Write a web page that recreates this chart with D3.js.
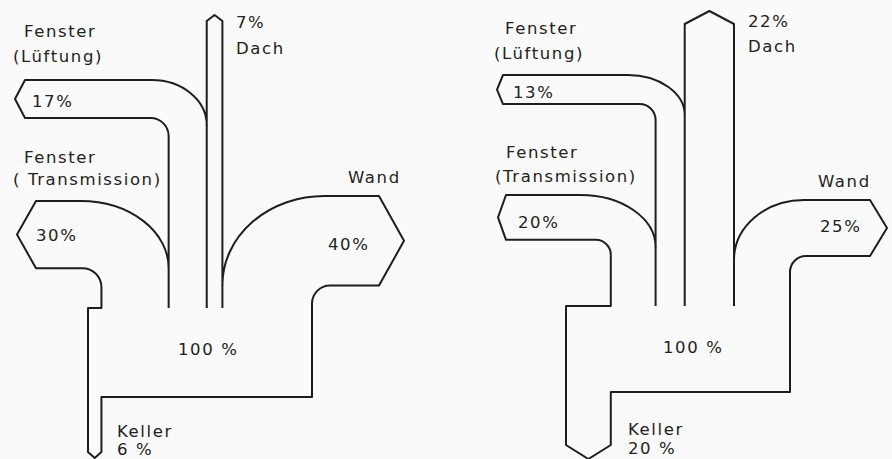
<!DOCTYPE html>
<html>
<head>
<meta charset="utf-8">
<script src="https://cdn.jsdelivr.net/npm/d3@7"></script>
<style>
  html, body { margin: 0; padding: 0; background: #fafafa; }
  svg { display: block; }
  text { font-family: "DejaVu Sans", sans-serif; font-size: 16.5px; fill: #222; letter-spacing: 1.6px; }
</style>
</head>
<body>
<svg id="chart" width="892" height="459"></svg>
<script>
// ---- data ----
const categories = ["Fenster (Lüftung)", "Fenster (Transmission)", "Dach", "Wand", "Keller"];
const valuesA = [17, 30, 7, 40, 6];   // left diagram (%)
const valuesB = [13, 20, 22, 25, 20]; // right diagram (%)
const totals = [100, 100];

// ---- layout (positions only) ----
const layouts = [
  { x0: 88, yTop: 308, yBot: 397, kShoulder: 452, kTip: 458,
    lTop: 80, lTipX: 15, lBodyX: 25, lRx: 55, lRy: 45, lR: 18,
    tTop: 201, tTipX: 17, tBodyX: 36, tRx: 88, tRy: 67, tR: 19,
    dShoulder: 21, dTip: 15,
    wTop: 196, wBodyX: 379, wTipX: 404, wRx: 102, wRy: 89, wR: 18,
    labels: { fl: [24, 37, 13, 62], lp: [32, 107], dp: [236, 28, 54], ft: [24, 163, 13, 185],
              wn: [348, 183], tp: [36, 241], wp: [328, 250], tot: [178, 355], k: [117, 437, 455] },
    transText: "( Transmission)", kSep: " " },
  { x0: 566, yTop: 306, yBot: 392, kShoulder: 445, kTip: 459,
    lTop: 75, lTipX: 497, lBodyX: 503, lRx: 57, lRy: 40, lR: 16,
    tTop: 195, tTipX: 498, tBodyX: 506, tRx: 75, tRy: 52, tR: 15,
    dShoulder: 24, dTip: 11,
    wTop: 200, wBodyX: 870, wTipX: 887, wRx: 70, wRy: 60, wR: 16,
    labels: { fl: [505, 34, 494, 59], lp: [513, 98], dp: [748, 27, 52], ft: [506, 158, 495, 182],
              wn: [818, 187], tp: [518, 228], wp: [820, 232], tot: [663, 353], k: [628, 435, 454] },
    transText: "(Transmission)", kSep: " " }
];

const w = d3.scaleLinear().domain([0, 100]).range([0, 224]);
const svg = d3.select("#chart");

function drawDiagram(values, total, L) {
  const [vL, vT, vD, vW, vK] = values;
  const g = svg.append("g");
  const x0 = L.x0;
  const xT0 = x0 + w(vK);
  const xL0 = xT0 + w(vT);
  const xD0 = xL0 + w(vL);
  const xW0 = xD0 + w(vD);
  const xEnd = x0 + w(total);
  const lBot = L.lTop + w(vL), lMid = (L.lTop + lBot) / 2;
  const tBot = L.tTop + w(vT), tMid = (L.tTop + tBot) / 2;
  const wBot = L.wTop + w(vW), wMid = (L.wTop + wBot) / 2;

  const outer = [
    `M${x0},${L.yTop}`, `L${xT0},${L.yTop}`, `L${xT0},${tBot + L.tR}`,
    `A${L.tR},${L.tR} 0 0 0 ${xT0 - L.tR},${tBot}`,
    `L${L.tBodyX},${tBot}`, `L${L.tTipX},${tMid}`, `L${L.tBodyX},${L.tTop}`,
    `L${xL0 - L.tRx},${L.tTop}`,
    `A${L.tRx},${L.tRy} 0 0 1 ${xL0},${L.tTop + L.tRy}`,
    `L${xL0},${lBot + L.lR}`,
    `A${L.lR},${L.lR} 0 0 0 ${xL0 - L.lR},${lBot}`,
    `L${L.lBodyX},${lBot}`, `L${L.lTipX},${lMid}`, `L${L.lBodyX},${L.lTop}`,
    `L${xD0 - L.lRx},${L.lTop}`,
    `A${L.lRx},${L.lRy} 0 0 1 ${xD0},${L.lTop + L.lRy}`,
    `L${xD0},${L.dShoulder}`, `L${(xD0 + xW0) / 2},${L.dTip}`, `L${xW0},${L.dShoulder}`,
    `L${xW0},${L.wTop + L.wRy}`,
    `A${L.wRx},${L.wRy} 0 0 1 ${xW0 + L.wRx},${L.wTop}`,
    `L${L.wBodyX},${L.wTop}`, `L${L.wTipX},${wMid}`, `L${L.wBodyX},${wBot}`,
    `L${xEnd + L.wR},${wBot}`,
    `A${L.wR},${L.wR} 0 0 0 ${xEnd},${wBot + L.wR}`,
    `L${xEnd},${L.yBot}`, `L${xT0},${L.yBot}`, `L${xT0},${L.kShoulder}`,
    `L${(x0 + xT0) / 2},${L.kTip}`, `L${x0},${L.kShoulder}`, "Z"
  ].join(" ");

  const inner = [
    `M${xL0},${L.tTop + L.tRy} L${xL0},${L.yTop}`,
    `M${xD0},${L.lTop + L.lRy} L${xD0},${L.yTop}`,
    `M${xW0},${L.wTop + L.wRy} L${xW0},${L.yTop}`
  ].join(" ");

  g.append("path").attr("d", outer).attr("fill", "none")
    .attr("stroke", "#1e1e1e").attr("stroke-width", 2).attr("stroke-linejoin", "round");
  g.append("path").attr("d", inner).attr("fill", "none")
    .attr("stroke", "#1e1e1e").attr("stroke-width", 2);

  const T = L.labels;
  const txt = (s, x, y) => g.append("text").attr("x", x).attr("y", y).text(s);
  txt("Fenster", T.fl[0], T.fl[1]);
  txt("(Lüftung)", T.fl[2], T.fl[3]);
  txt(vL + "%", T.lp[0], T.lp[1]);
  txt(vD + "%", T.dp[0], T.dp[1]);
  txt("Dach", T.dp[0], T.dp[2]);
  txt("Fenster", T.ft[0], T.ft[1]);
  txt(L.transText, T.ft[2], T.ft[3]);
  txt("Wand", T.wn[0], T.wn[1]);
  txt(vT + "%", T.tp[0], T.tp[1]);
  txt(vW + "%", T.wp[0], T.wp[1]);
  txt(total + " %", T.tot[0], T.tot[1]);
  txt("Keller", T.k[0], T.k[1]);
  txt(vK + L.kSep + "%", T.k[0], T.k[2]);
}

drawDiagram(valuesA, totals[0], layouts[0]);
drawDiagram(valuesB, totals[1], layouts[1]);
</script>
</body>
</html>
